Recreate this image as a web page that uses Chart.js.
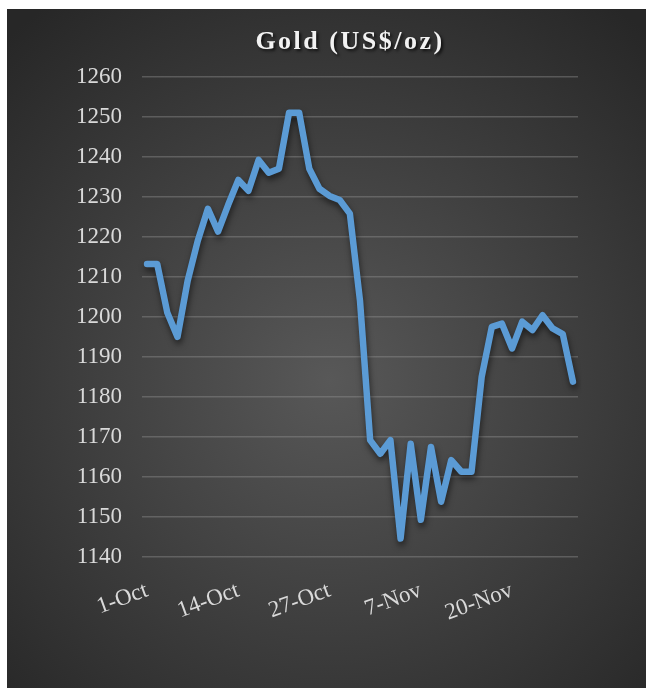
<!DOCTYPE html>
<html>
<head>
<meta charset="utf-8">
<script src="https://cdn.jsdelivr.net/npm/chart.js@4/dist/chart.umd.min.js"></script>
<style>
  body { margin: 0; background: #fff; }
  #wrap { position: absolute; left: 0; top: 0; width: 648px; height: 689px; }
</style>
</head>
<body>
<div id="wrap"><canvas id="gold"></canvas></div>
<script>
// trading days, Oct 1 - Nov 28
const days = ['1-Oct','2-Oct','3-Oct','6-Oct','7-Oct','8-Oct','9-Oct','10-Oct','13-Oct','14-Oct',
  '15-Oct','16-Oct','17-Oct','20-Oct','21-Oct','22-Oct','23-Oct','24-Oct','27-Oct','28-Oct',
  '29-Oct','30-Oct','31-Oct','3-Nov','4-Nov','5-Nov','6-Nov','7-Nov','10-Nov','11-Nov',
  '12-Nov','13-Nov','14-Nov','17-Nov','18-Nov','19-Nov','20-Nov','21-Nov','24-Nov','25-Nov',
  '26-Nov','27-Nov','28-Nov'];
const price = [1213.2,1213.2,1201,1195,1209,1219,1227,1221.3,1228,1234.2,
  1231.5,1239.2,1236,1237,1251,1251,1237,1232,1230.2,1229.2,
  1225.8,1204,1169.2,1165.8,1169.2,1144.6,1168.3,1149.3,1167.5,1153.8,
  1164.2,1161.3,1161.3,1185,1197.5,1198.3,1192.1,1198.8,1196.7,1200.4,
  1197.1,1195.7,1183.8];
const yMin = 1140, yMax = 1260, yStep = 10;
const labelEvery = 9;

const serif = "'Liberation Serif', 'Times New Roman', serif";

const background = {
  id: 'background',
  beforeDraw(chart) {
    const ctx = chart.ctx;
    ctx.save();
    ctx.fillStyle = '#fff';
    ctx.fillRect(0, 0, chart.width, chart.height);
    const g = ctx.createRadialGradient(330, 380, 0, 330, 380, 470);
    g.addColorStop(0, '#585858');
    g.addColorStop(1, '#272727');
    ctx.fillStyle = g;
    ctx.fillRect(7, 9, 639, 679);
    ctx.restore();
  }
};

// spaced out title with a soft shadow, sits a bit right of centre like the original
const titleStyle = {
  id: 'titleStyle',
  afterLayout(chart) {
    const t = chart.titleBlock;
    if (!t || t._patched) return;
    const orig = t.draw.bind(t);
    t.draw = function(area) {
      const ctx = chart.ctx;
      ctx.save();
      ctx.translate(30, 0);
      ctx.letterSpacing = '2.5px';
      ctx.shadowColor = 'rgba(0,0,0,0.7)';
      ctx.shadowBlur = 3;
      ctx.shadowOffsetX = 2;
      ctx.shadowOffsetY = 2;
      orig(area);
      ctx.restore();
    };
    t._patched = true;
  }
};

const lineShadow = {
  id: 'lineShadow',
  beforeDatasetsDraw(chart) {
    const ctx = chart.ctx;
    ctx.save();
    ctx.shadowColor = 'rgba(0,0,0,0.55)';
    ctx.shadowBlur = 6;
    ctx.shadowOffsetX = 1;
    ctx.shadowOffsetY = 4;
  },
  afterDatasetsDraw(chart) {
    chart.ctx.restore();
  }
};

new Chart(document.getElementById('gold'), {
  type: 'line',
  data: {
    labels: days,
    datasets: [{
      data: price,
      borderColor: '#5b9bd5',
      borderWidth: 6.5,
      borderJoinStyle: 'round',
      borderCapStyle: 'round',
      pointRadius: 0,
      tension: 0,
      fill: false
    }]
  },
  options: {
    responsive: true,
    maintainAspectRatio: false,
    animation: false,
    layout: { padding: { left: 62, right: 70, top: 0, bottom: 32 } },
    plugins: {
      legend: { display: false },
      tooltip: { enabled: false },
      title: {
        display: true,
        text: 'Gold (US$/oz)',
        color: '#f2f2f2',
        font: { family: serif, size: 26, weight: 'bold', lineHeight: 1.2 },
        padding: { top: 26.4, bottom: 19.1 }
      }
    },
    scales: {
      x: {
        type: 'category',
        offset: true,
        grid: { display: false },
        border: { display: false },
        afterFit(s) { s.height = 100; },
        ticks: {
          autoSkip: false,
          minRotation: 20,
          maxRotation: 20,
          padding: 12,
          color: '#d9d9d9',
          font: { family: serif, size: 23 },
          callback(v, i) { return i % labelEvery === 0 ? this.getLabelForValue(v) : ''; }
        }
      },
      y: {
        min: yMin,
        max: yMax,
        grid: { color: 'rgba(150,150,150,0.4)', lineWidth: 1.5, drawTicks: false },
        border: { display: false },
        afterFit(s) { s.width = 80; },
        ticks: {
          stepSize: yStep,
          padding: 20,
          color: '#d9d9d9',
          font: { family: serif, size: 23 },
          callback: v => String(v)
        }
      }
    }
  },
  plugins: [background, titleStyle, lineShadow]
});
</script>
</body>
</html>
